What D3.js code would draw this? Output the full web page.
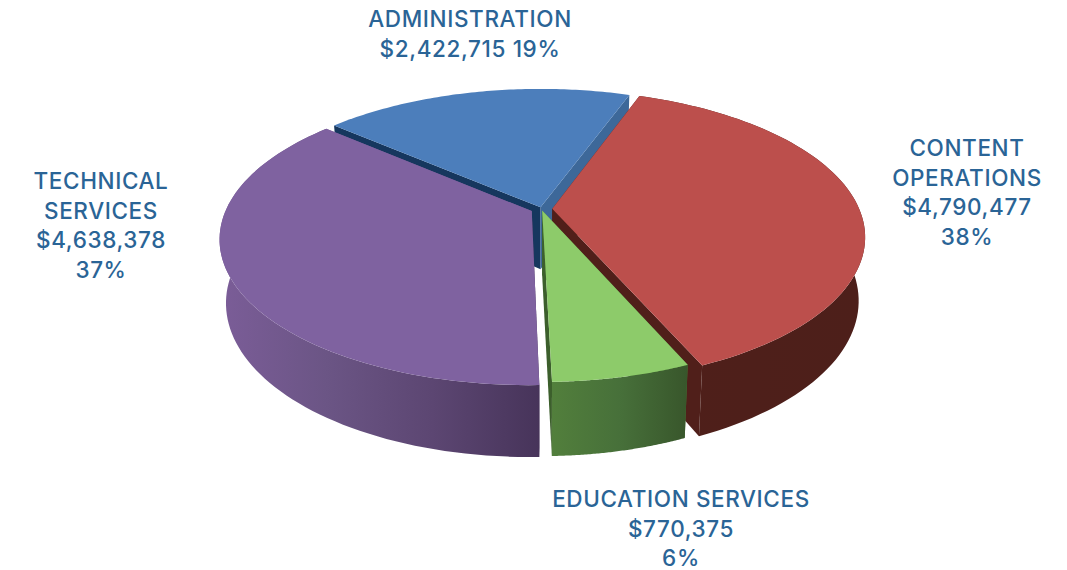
<!DOCTYPE html>
<html>
<head>
<meta charset="utf-8">
<script src="https://cdn.jsdelivr.net/npm/d3@7"></script>
<style>
  html, body { margin: 0; padding: 0; background: #fff; overflow: hidden; }
  svg { display: block; }
  text { font-family: Inter, sans-serif; font-weight: 500; font-size: 22.5px; letter-spacing: 0.62px; fill: #2a6496; text-anchor: middle; }
</style>
</head>
<body>
<svg id="chart" width="1067" height="570"></svg>
<script>
// data, clockwise from the back of the pie
const categories = ['Administration', 'Content Operations', 'Education Services', 'Technical Services'];
const budget = [2422715, 4790477, 770375, 4638378];
const explode = [0.012, 0.035, 0.01, 0.035];
const sliceRadius = [1, 1, 0.985, 0.995];
const sliceDepth = [62, 62, 64.5, 62];

// colours per slice
const topColors = ['#4c7ebb', '#bc4f4c', '#8dcb6a', '#7f62a0'];
const cutStartColors = ['#16375e', '#561f1a', '#4e7f37', '#47345a'];
const cutEndColors = ['#3d6899', '#501f1a', '#3c5f2c', '#7a5c97'];
// the blue slice sits at the back, its outer wall never shows
const wallStops = [
    null,
    ['#4f1f1a', '#4d1f1a'],
    ['#527f3c', '#47703a', '#38562b'],
    ['#7b5d98', '#6b5585', '#5c4672', '#47345a']
];

// label lines
const labelLines = [
    ['ADMINISTRATION', '$2,422,715 19%'],
    ['CONTENT', 'OPERATIONS', '$4,790,477', '38%'],
    ['EDUCATION SERVICES', '$770,375', '6%'],
    ['TECHNICAL', 'SERVICES', '$4,638,378', '37%']
];
const labelX = [470, 967, 681, 101];
const labelY = [27, 156, 507, 189];
const lineGap = 29.7;

// projection of the pie's plane
const cx = 541.5, cy = 209;
const fx = 307, fy = 141.3, persp = 0.188;
const bottomScaleX = 0.98, bottomScaleY = 1.056;
const startDeg = -49.2;

const svg = d3.select('#chart');
const defs = svg.append('defs');

const pie = d3.pie()
    .value(d => d)
    .sort(null)
    .startAngle(startDeg * Math.PI / 180)
    .endAngle((360 + startDeg) * Math.PI / 180);

// a = clockwise from the back, r = 0..1, depth = 0 for the top face
function project(a, r, e, mid, depth) {
    const x = r * Math.sin(a) + e * Math.sin(mid);
    const y = -r * Math.cos(a) - e * Math.cos(mid);
    const w = 1 - persp * y;
    const px = fx * x / w, py = fy * y / w;
    if (depth) return [cx + bottomScaleX * px, cy + depth + bottomScaleY * py];
    return [cx + px, cy + py];
}

const line = d3.line();

function rim(d, r, e, mid, depth) {
    const n = 80;
    return d3.range(n + 1).map(i => {
        const a = d.startAngle + (d.endAngle - d.startAngle) * i / n;
        return project(a, r, e, mid, depth);
    });
}

function addGradient(id, stops) {
    const g = defs.append('linearGradient').attr('id', id);
    stops.forEach((c, i) => {
        g.append('stop')
            .attr('offset', i / (stops.length - 1))
            .attr('stop-color', c);
    });
}

const arcs = pie(budget);

// painter's order: back slice first, front slice last
[0, 1, 3, 2].forEach(i => {
    const d = arcs[i];
    const e = explode[i];
    const r = sliceRadius[i];
    const depth = sliceDepth[i];
    const mid = (d.startAngle + d.endAngle) / 2;
    const g = svg.append('g').attr('class', 'slice').attr('data-name', categories[i]);

    const apexTop = project(0, 0, e, mid, 0);
    const apexBottom = project(0, 0, e, mid, depth);
    const top = rim(d, r, e, mid, 0);
    const bottom = rim(d, r, e, mid, depth);

    // cut faces
    g.append('path')
        .attr('d', line([apexTop, top[0], bottom[0], apexBottom]) + 'Z')
        .attr('fill', cutStartColors[i]);
    g.append('path')
        .attr('d', line([apexTop, top[top.length - 1], bottom[bottom.length - 1], apexBottom]) + 'Z')
        .attr('fill', cutEndColors[i]);

    // outer wall
    if (wallStops[i]) {
        addGradient('wall' + i, wallStops[i]);
        g.append('path')
            .attr('d', line(top.concat(bottom.slice().reverse())) + 'Z')
            .attr('fill', `url(#wall${i})`);
    }

    // top face
    g.append('path')
        .attr('d', line([apexTop].concat(top)) + 'Z')
        .attr('fill', topColors[i]);
});

labelLines.forEach((lines, i) => {
    lines.forEach((t, j) => {
        svg.append('text')
            .attr('x', labelX[i])
            .attr('y', labelY[i] + j * lineGap)
            .text(t);
    });
});
</script>
</body>
</html>
